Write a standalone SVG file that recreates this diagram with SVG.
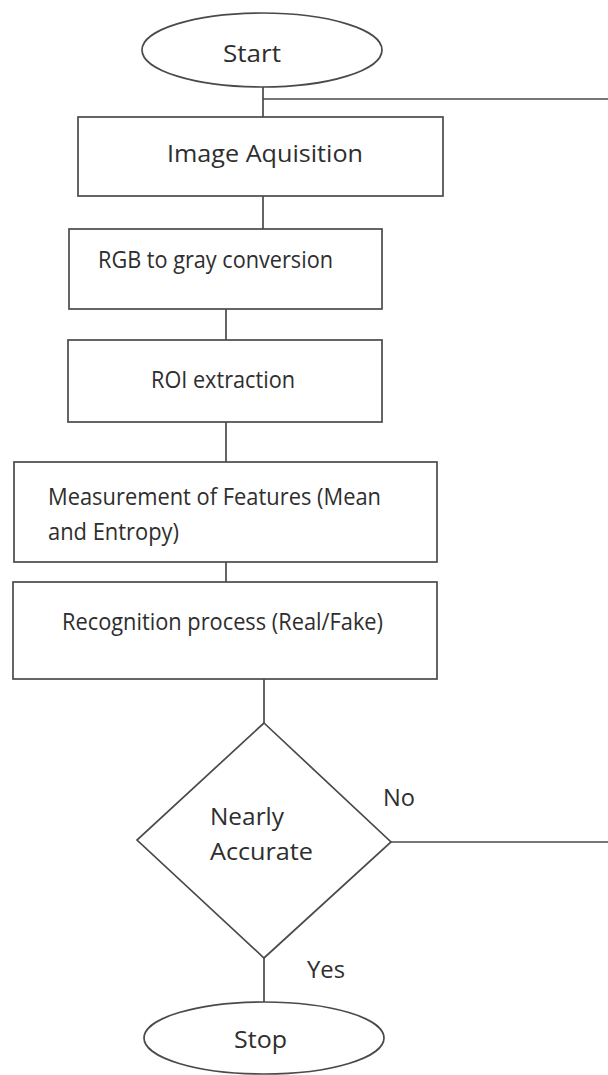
<svg xmlns="http://www.w3.org/2000/svg" width="608" height="1075" viewBox="0 0 608 1075">
<style>
.s{fill:#fff;stroke:#4a4a4a;stroke-width:1.7}
.c{fill:none;stroke:#4a4a4a;stroke-width:1.7}
.t{font-family:"Open Sans","Noto Sans",sans-serif;font-size:24px;fill:#2e2e2e}
</style>
<rect width="608" height="1075" fill="#fff"/>
<g id="connectors">
<line class="c" x1="263" y1="87" x2="263" y2="117"/>
<line class="c" x1="263" y1="99" x2="608" y2="99"/>
<line class="c" x1="263" y1="196" x2="263" y2="229"/>
<line class="c" x1="226" y1="309" x2="226" y2="340"/>
<line class="c" x1="226" y1="422" x2="226" y2="462"/>
<line class="c" x1="226" y1="562" x2="226" y2="582"/>
<line class="c" x1="264" y1="679" x2="264" y2="723"/>
<line class="c" x1="391" y1="842" x2="608" y2="842"/>
<line class="c" x1="264" y1="958" x2="264" y2="1002"/>
<text class="t" x="383" y="806" textLength="32" lengthAdjust="spacingAndGlyphs">No</text>
<text class="t" x="307" y="978" textLength="38" lengthAdjust="spacingAndGlyphs">Yes</text>
</g>
<g id="start">
<ellipse class="s" cx="262" cy="50" rx="120" ry="37"/>
<text class="t" x="223" y="62" textLength="58" lengthAdjust="spacingAndGlyphs">Start</text>
</g>
<g id="acquisition">
<rect class="s" x="78" y="117" width="365" height="79"/>
<text class="t" x="167" y="162" textLength="196" lengthAdjust="spacingAndGlyphs">Image Aquisition</text>
</g>
<g id="rgb2gray">
<rect class="s" x="69" y="229" width="313" height="80"/>
<text class="t" x="98" y="268" textLength="235" lengthAdjust="spacingAndGlyphs">RGB to gray conversion</text>
</g>
<g id="roi">
<rect class="s" x="68" y="340" width="314" height="82"/>
<text class="t" x="151" y="388" textLength="144" lengthAdjust="spacingAndGlyphs">ROI extraction</text>
</g>
<g id="features">
<rect class="s" x="14" y="462" width="423" height="100"/>
<text class="t" x="48" y="505" textLength="333" lengthAdjust="spacingAndGlyphs">Measurement of Features (Mean</text>
<text class="t" x="48" y="540" textLength="131" lengthAdjust="spacingAndGlyphs">and Entropy)</text>
</g>
<g id="recognition">
<rect class="s" x="13" y="582" width="424" height="97"/>
<text class="t" x="62" y="630" textLength="321" lengthAdjust="spacingAndGlyphs">Recognition process (Real/Fake)</text>
</g>
<g id="decision">
<polygon class="s" points="264,723 391,842 264,958 137,840"/>
<text class="t" x="210" y="825" textLength="74" lengthAdjust="spacingAndGlyphs">Nearly</text>
<text class="t" x="210" y="860" textLength="103" lengthAdjust="spacingAndGlyphs">Accurate</text>
</g>
<g id="stop">
<ellipse class="s" cx="264" cy="1038" rx="120" ry="36"/>
<text class="t" x="234" y="1048" textLength="53" lengthAdjust="spacingAndGlyphs">Stop</text>
</g>
</svg>
